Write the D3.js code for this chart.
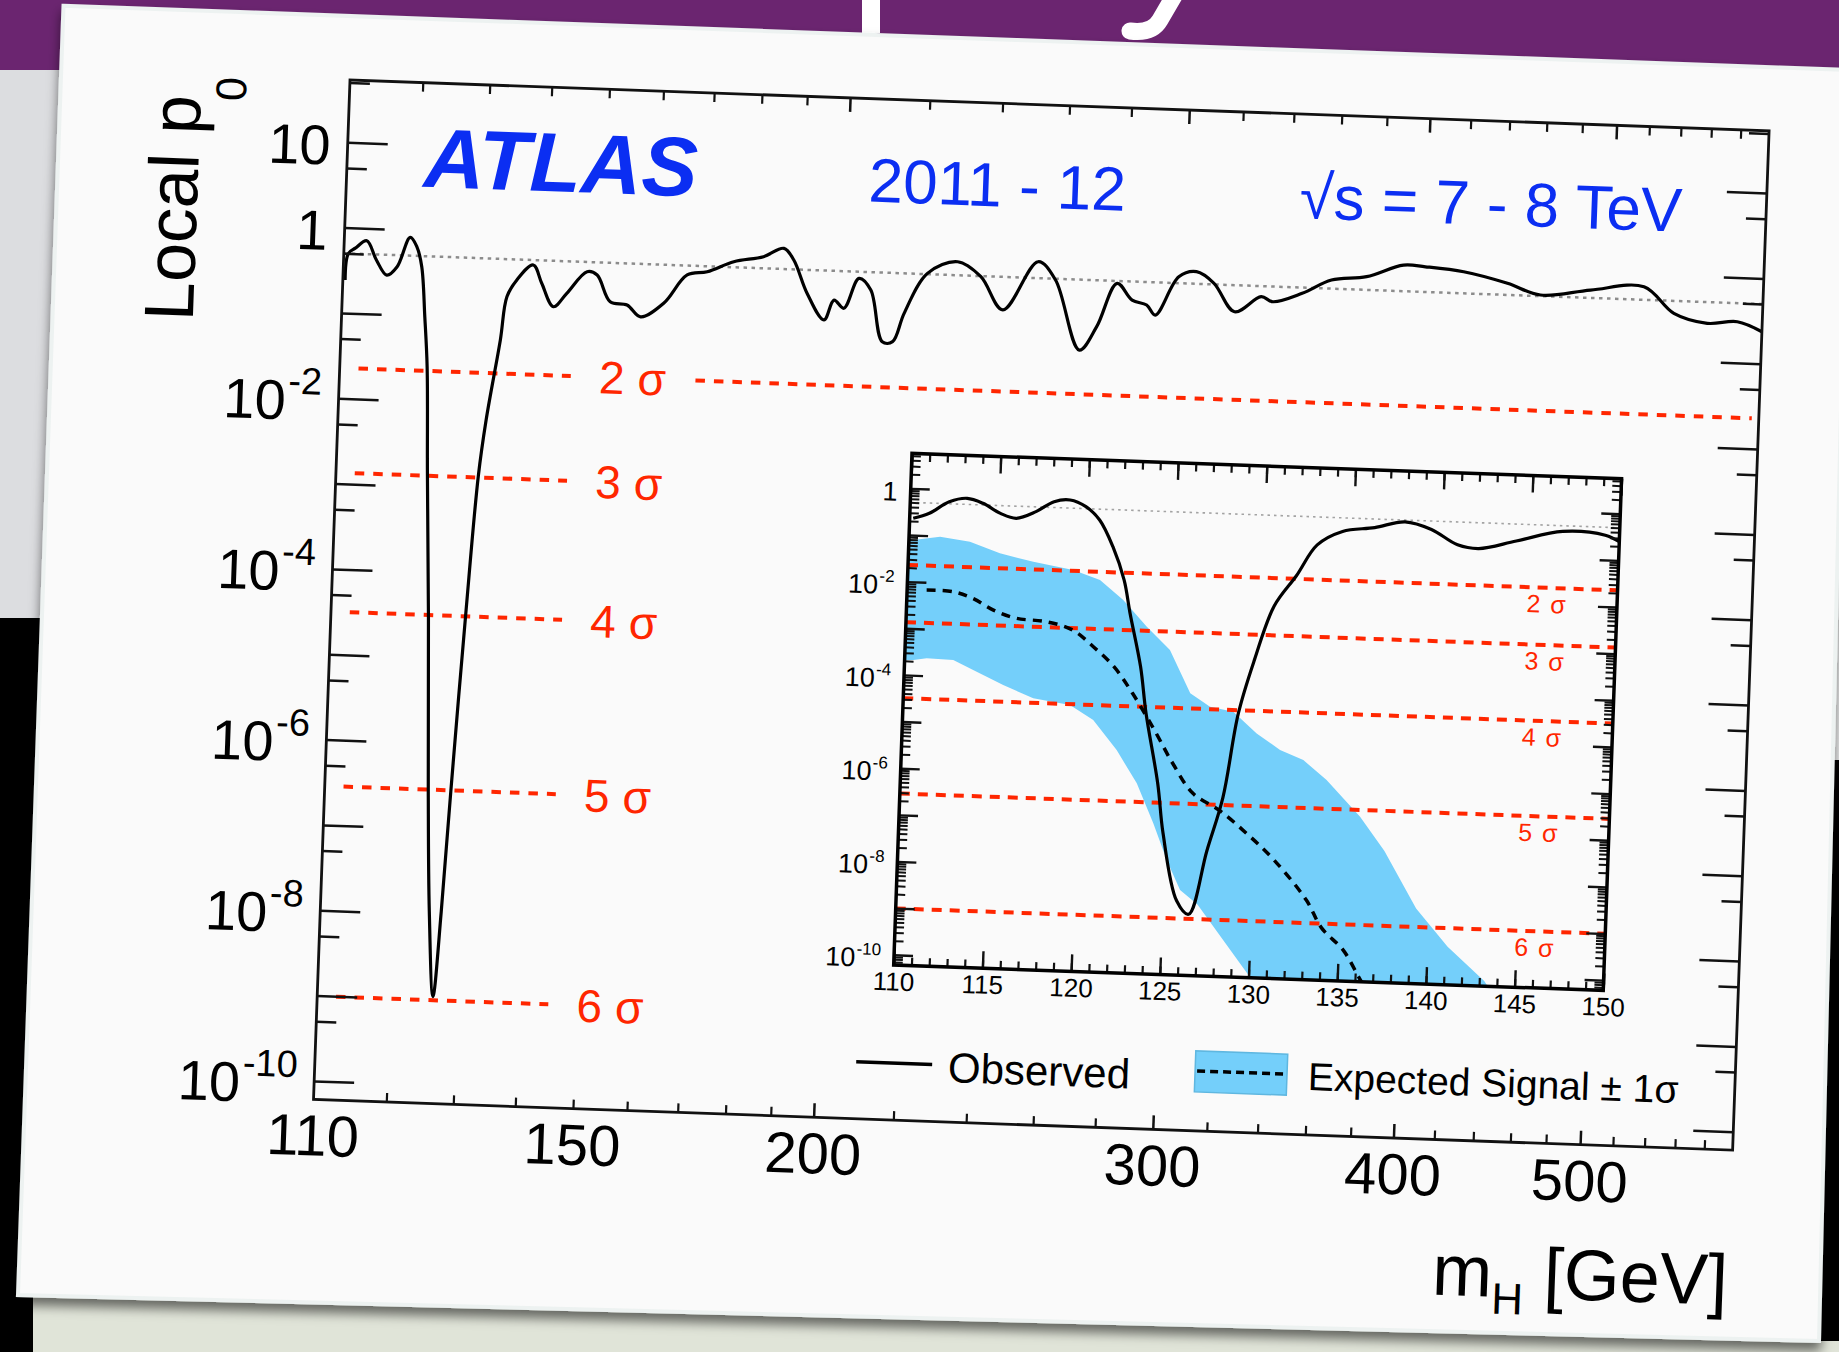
<!DOCTYPE html>
<html>
<head>
<script src="https://d3js.org/d3.v7.min.js"></script>
<style>
  body { margin: 0; background: #000; }
  svg text { white-space: pre; }
</style>
</head>
<body>
<div id="chart"></div>
<script>
// ---------------- data ----------------
// main plot: observed local p0 vs mH
const obsMass = [110.3,110.6,111.5,113.0,114.4,115.9,117.3,119.0,120.0,120.8,121.5,122.1,122.7,123.6,124.5,125.3,126.3,127.1,127.9,129.2,
  130.4,131.3,133.1,133.9,135.4,138.0,139.5,141.6,143.8,147.2,149.0,151.5,154.6,157.2,161.5,165.9,169.9,175.3,181.6,186.0,
  188.3,191.6,195.7,197.9,200.3,203.7,206.7,210.0,212.6,215.3,221.0,229.0,235.6,242.2,252.1,257.6,265.8,271.1,277.3,282.5,
  287.5,290.6,298.4,304.7,311.3,319.4,329.5,334.2,346.0,358.1,373.4,390.0,400.4,419.2,441.9,459.9,488.1,520.2,539.7,561.9,582.4,600];
const obsP0 = [0.243,0.50,0.58,0.716,0.43,0.289,0.366,0.817,0.639,0.375,0.0975,0.0253,1.42e-3,3.06e-5,2.77e-7,1.07e-8,1.09e-9,1.09e-8,2.82e-7,3.17e-5,
  1.41e-3,6.38e-3,0.0563,0.181,0.288,0.438,0.27,0.145,0.211,0.385,0.355,0.175,0.163,0.12,0.177,0.388,0.432,0.58,0.684,0.873,
  0.644,0.265,0.132,0.227,0.184,0.418,0.309,0.0776,0.0784,0.17,0.511,0.72,0.492,0.205,0.778,0.483,0.0749,0.143,0.469,0.303,
  0.269,0.207,0.594,0.693,0.515,0.244,0.376,0.332,0.428,0.63,0.714,1.01,0.986,0.895,0.684,0.515,0.617,0.711,0.357,0.282,0.303,0.237];

// inset (110-150 GeV)
const insetObsMass = [110.2,111.1,112.2,113.2,114.1,115.1,116.0,117.1,118.1,119.0,119.9,120.7,121.5,122.2,122.6,123.3,123.7,124.5,124.9,125.8,
  126.5,127.4,128.2,128.9,129.7,130.7,131.9,133.0,134.4,136.2,137.9,139.4,140.9,142.1,144.2,146.8,149.2,150];
const insetObsP0 = [0.229,0.302,0.553,0.675,0.542,0.341,0.275,0.395,0.667,0.745,0.551,0.293,0.0804,0.0158,3.1e-3,2.26e-4,2.31e-5,7.4e-7,6.4e-8,2.35e-9,
  1.24e-9,2.9e-8,4.2e-7,2.73e-5,3.94e-4,5.74e-3,0.0269,0.126,0.256,0.327,0.459,0.33,0.162,0.14,0.217,0.378,0.338,0.251];
const expMass = [111.1,112.6,113.7,114.9,116.2,117.9,119.4,120.6,121.8,122.9,124.2,125.3,126.5,128.0,129.6,131.2,133.1,134.0,135.3,136.2,136.5];
const expP0 = [6.82e-3,6.59e-3,4.92e-3,2.86e-3,1.99e-3,1.77e-3,1.23e-3,5.6e-4,2.17e-4,6.04e-5,1.03e-5,2.06e-6,4.84e-7,2.23e-7,7.4e-8,2.09e-8,3.07e-9,8.1e-10,2.71e-10,7.6e-11,5e-11];
const bandHiMass = [110,110.25,111.75,113.44,115.15,117.05,119.31,120.84,122.19,123.57,124.92,126.15,127.29,128.61,129.97,131.32,132.65,134.0,135.96,137.4,139.3,141.15,143.28,144.2];
const bandHiP0 = [0.0794,0.0783,0.097,0.08,0.0474,0.0333,0.0238,0.0152,5.92e-3,1.65e-3,5.46e-4,6.67e-5,3.58e-5,2.91e-5,1.04e-5,4.79e-6,3.04e-6,1.18e-6,2.06e-7,3.95e-8,2.46e-9,3.96e-10,7.8e-11,2.5e-11];
const bandLoMass = [110,110.49,111.24,112.74,114.08,115.6,117.32,119.4,120.74,122.12,123.32,124.33,125.16,125.97,126.98,130.0,130.5];
const bandLoP0 = [2.09e-4,2.11e-4,2.36e-4,2.28e-4,1.33e-4,7.24e-5,3.95e-5,3.04e-5,1.51e-5,3.57e-6,7.19e-7,1.03e-7,1.73e-8,4.03e-9,2.04e-9,6.8e-11,2.5e-11];

// significance levels
const sigmaN = [2, 3, 4, 5, 6];
const sigmaP0 = [2.275e-2, 1.350e-3, 3.167e-5, 2.867e-7, 9.866e-10];
const sigmaSegment = [112.5, 145];     // left dashed pieces in the main plot
const sigmaLabelMass = 150;
const sigma2Tail = [168.3, 595];       // the 2 sigma line continues to the right
const insetSigmaLabelMass = 144.9;

// ticks
const xLabels = [110, 150, 200, 300, 400, 500];
const xMajor = [200, 300, 400, 500];
const xMinor = [120,130,140,150,160,170,180,190,220,240,260,280,320,340,360,380,420,440,460,480,520,540,560,580];
const yLabelExp = [1, 0, -2, -4, -6, -8, -10];
const insetXLabels = [110, 115, 120, 125, 130, 135, 140, 145, 150];
const insetYLabelExp = [0, -2, -4, -6, -8, -10];

// ---------------- setup ----------------
const font = "'Liberation Sans', Arial, Helvetica, sans-serif";
const red = "#ff2600", blue = "#0b2ef2", band = "#74cffa";
const W = 1420, H = 1020;

const svg = d3.select("#chart").append("svg")
  .attr("width", 1839).attr("height", 1352)
  .style("display", "block");

const defs = svg.append("defs");
const shadow = defs.append("filter").attr("id", "shadow").attr("x", "-5%").attr("y", "-5%").attr("width", "110%").attr("height", "115%");
shadow.append("feDropShadow").attr("dx", 0).attr("dy", 8).attr("stdDeviation", 6)
  .attr("flood-color", "#000").attr("flood-opacity", 0.55);

// ---------------- background of the photo ----------------
svg.append("rect").attr("width", 1839).attr("height", 1352).attr("fill", "#000");
svg.append("rect").attr("x", 0).attr("y", 70).attr("width", 140).attr("height", 548).attr("fill", "#dcdde0");
svg.append("rect").attr("x", 1760).attr("y", 60).attr("width", 79).attr("height", 700).attr("fill", "#f2f3f3");
svg.append("rect").attr("x", 33).attr("y", 1280).attr("width", 1806).attr("height", 72).attr("fill", "#e0e4d8");
svg.append("rect").attr("x", 1821).attr("y", 760).attr("width", 18).attr("height", 581).attr("fill", "#000");
svg.append("rect").attr("x", 0).attr("y", 0).attr("width", 1839).attr("height", 70).attr("fill", "#6b2570");
// bits of the slide title peeking out above the card
svg.append("rect").attr("x", 862).attr("y", 0).attr("width", 18).attr("height", 33).attr("fill", "#fff");
svg.append("path").attr("d", "M1174,-4 L1160,20 Q1152,34 1130,31").attr("fill", "none")
  .attr("stroke", "#fff").attr("stroke-width", 17).attr("stroke-linecap", "round");

// the printed card
svg.append("polygon")
  .attr("points", "63.5,5.7 1849,70 1819,1341 18,1295")
  .attr("fill", "#fafafa").attr("stroke", "#edf2f1").attr("stroke-width", 4)
  .attr("filter", "url(#shadow)");

// ---------------- the chart, drawn flat then tilted like the photo ----------------
const plot = svg.append("g").attr("transform", "translate(350,80) rotate(2.05)")
  .attr("font-family", font);

const x = d3.scaleLog().domain([110, 600]).range([0, W]);
const y = d3.scaleLog().domain([Math.pow(10, -10.216), Math.pow(10, 1.7296)]).range([H, 0]);

// background-only expectation (p0 = 0.5)
plot.append("line").attr("x1", 0).attr("x2", W).attr("y1", y(0.5)).attr("y2", y(0.5))
  .attr("stroke", "#8c8c8c").attr("stroke-width", 2.5).attr("stroke-dasharray", "3.5 4.5");

// sigma lines
sigmaN.forEach((n, i) => {
  const yy = y(sigmaP0[i]);
  plot.append("line").attr("x1", x(sigmaSegment[0])).attr("x2", x(sigmaSegment[1]))
    .attr("y1", yy).attr("y2", yy)
    .attr("stroke", red).attr("stroke-width", 4).attr("stroke-dasharray", "9.5 9");
  plot.append("text").attr("x", x(sigmaLabelMass)).attr("y", yy).attr("dy", "0.35em")
    .attr("font-size", 46).attr("fill", red).text(n + " σ");
});
plot.append("line").attr("x1", x(sigma2Tail[0])).attr("x2", x(sigma2Tail[1]))
  .attr("y1", y(sigmaP0[0])).attr("y2", y(sigmaP0[0]))
  .attr("stroke", red).attr("stroke-width", 4).attr("stroke-dasharray", "9.5 9");

// observed
const mainLine = d3.line().x(d => x(d[0])).y(d => y(d[1])).curve(d3.curveCatmullRom.alpha(0.5));
plot.append("path").datum(d3.zip(obsMass, obsP0)).attr("d", mainLine)
  .attr("fill", "none").attr("stroke", "#000").attr("stroke-width", 3.2).attr("stroke-linejoin", "round");

// ---------------- inset ----------------
const ix = d3.scaleLinear().domain([110, 150]).range([575, 1285]);
const iy = d3.scaleLog().domain([Math.pow(10, -10.22), Math.pow(10, 0.75)]).range([865, 353]);

defs.append("clipPath").attr("id", "insetClip").append("rect")
  .attr("x", 575).attr("y", 353).attr("width", 710).attr("height", 512);

plot.append("rect").attr("x", 575).attr("y", 353).attr("width", 710).attr("height", 512).attr("fill", "#fafafa");
const inset = plot.append("g").attr("clip-path", "url(#insetClip)");

// +-1 sigma band on the expected signal
const bandPts = d3.zip(bandHiMass, bandHiP0).concat(d3.zip(bandLoMass, bandLoP0).reverse());
inset.append("path")
  .attr("d", d3.line().x(d => ix(d[0])).y(d => iy(d[1]))(bandPts) + "Z")
  .attr("fill", band);

inset.append("line").attr("x1", 575).attr("x2", 1285).attr("y1", iy(0.5)).attr("y2", iy(0.5))
  .attr("stroke", "#a3a3a3").attr("stroke-width", 1.6).attr("stroke-dasharray", "2.5 4");

sigmaN.forEach((n, i) => {
  const yy = iy(sigmaP0[i]);
  inset.append("line").attr("x1", 575).attr("x2", 1285).attr("y1", yy).attr("y2", yy)
    .attr("stroke", red).attr("stroke-width", 4).attr("stroke-dasharray", "10 8");
  inset.append("text").attr("x", ix(insetSigmaLabelMass)).attr("y", yy + 25)
    .attr("font-size", 25).attr("letter-spacing", 1.5).attr("fill", red).text(n + " σ");
});

const insetLine = d3.line().x(d => ix(d[0])).y(d => iy(d[1])).curve(d3.curveCatmullRom.alpha(0.5));
inset.append("path").datum(d3.zip(expMass, expP0)).attr("d", insetLine)
  .attr("fill", "none").attr("stroke", "#000").attr("stroke-width", 3.5).attr("stroke-dasharray", "9 7");
inset.append("path").datum(d3.zip(insetObsMass, insetObsP0)).attr("d", insetLine)
  .attr("fill", "none").attr("stroke", "#000").attr("stroke-width", 3.2).attr("stroke-linejoin", "round");

// ---------------- axes ----------------
function tickSet(axis, tx, ty, values, size, sw) {
  plot.append("g").attr("transform", `translate(${tx},${ty})`)
    .call(axis.tickValues(values).tickSize(-size).tickSizeOuter(0).tickFormat(""))
    .call(g => g.select(".domain").remove())
    .call(g => g.selectAll("line").attr("stroke", "#111").attr("stroke-width", sw));
}

// main x ticks (bottom + top)
tickSet(d3.axisBottom(x), 0, H, xMajor, 14, 2.5);
tickSet(d3.axisBottom(x), 0, H, xMinor, 9, 2.2);
tickSet(d3.axisTop(x), 0, 0, xMajor, 14, 2.5);
tickSet(d3.axisTop(x), 0, 0, xMinor, 9, 2.2);

// main y ticks (left + right)
const yMajor = d3.range(-10, 2).map(e => Math.pow(10, e));
const yMinor = d3.range(-11, 2).map(e => 5 * Math.pow(10, e)).filter(v => v > y.domain()[0] && v < y.domain()[1]);
tickSet(d3.axisLeft(y), 0, 0, yMajor, 40, 2.5);
tickSet(d3.axisLeft(y), 0, 0, yMinor, 20, 2.5);
tickSet(d3.axisRight(y), W, 0, yMajor, 40, 2.5);
tickSet(d3.axisRight(y), W, 0, yMinor, 20, 2.5);

plot.append("rect").attr("width", W).attr("height", H)
  .attr("fill", "none").attr("stroke", "#111").attr("stroke-width", 2.8);

// x tick labels
plot.append("g").attr("transform", `translate(0,${H})`)
  .call(d3.axisBottom(x).tickValues(xLabels).tickSize(0).tickPadding(15).tickFormat(d3.format("d")))
  .call(g => g.select(".domain").remove())
  .attr("font-family", font).attr("font-size", 58);

// y tick labels with exponents
yLabelExp.forEach(e => {
  const t = plot.append("text").attr("x", -17).attr("y", y(Math.pow(10, e)) + 23)
    .attr("text-anchor", "end").attr("font-size", 56);
  if (e === 1) t.text("10");
  else if (e === 0) t.text("1");
  else {
    t.append("tspan").text("10");
    t.append("tspan").attr("font-size", 38).attr("dx", 2).attr("dy", -26).text(String(e));
  }
});

// inset ticks
const insetXMinor = d3.range(110, 151);
const insetYMajor = d3.range(-10, 1).map(e => Math.pow(10, e));
const insetYMinor = [];
d3.range(-11, 1).forEach(e => d3.range(2, 10).forEach(k => {
  const v = k * Math.pow(10, e);
  if (v > iy.domain()[0] && v < iy.domain()[1]) insetYMinor.push(v);
}));
tickSet(d3.axisBottom(ix), 0, 865, insetXLabels, 17, 2.4);
tickSet(d3.axisBottom(ix), 0, 865, insetXMinor, 8, 2.2);
tickSet(d3.axisTop(ix), 0, 353, insetXLabels, 17, 2.4);
tickSet(d3.axisTop(ix), 0, 353, insetXMinor, 8, 2.2);
tickSet(d3.axisLeft(iy), 575, 0, insetYMajor, 19, 2.4);
tickSet(d3.axisLeft(iy), 575, 0, insetYMinor, 9, 2);
tickSet(d3.axisRight(iy), 1285, 0, insetYMajor, 19, 2.4);
tickSet(d3.axisRight(iy), 1285, 0, insetYMinor, 9, 2);

plot.append("rect").attr("x", 575).attr("y", 353).attr("width", 710).attr("height", 512)
  .attr("fill", "none").attr("stroke", "#000").attr("stroke-width", 3.5);

plot.append("g").attr("transform", "translate(0,865)")
  .call(d3.axisBottom(ix).tickValues(insetXLabels).tickSize(0).tickPadding(7).tickFormat(d3.format("d")))
  .call(g => g.select(".domain").remove())
  .attr("font-family", font).attr("font-size", 26);

insetYLabelExp.forEach(e => {
  const t = plot.append("text").attr("x", 562).attr("y", iy(Math.pow(10, e)) + 13)
    .attr("text-anchor", "end").attr("font-size", 27);
  if (e === 0) t.text("1");
  else {
    t.append("tspan").text("10");
    t.append("tspan").attr("font-size", 17).attr("dx", 1).attr("dy", -12).text(String(e));
  }
});

// ---------------- titles and labels ----------------
plot.append("text").attr("transform", "translate(-148.5,247) rotate(-90)").attr("font-size", 70)
  .call(t => {
    t.append("tspan").text("Local p");
    t.append("tspan").attr("font-size", 43).attr("dx", -4).attr("dy", 45).text("0");
  });

plot.append("text").attr("x", W).attr("y", 1175).attr("text-anchor", "end").attr("font-size", 72)
  .call(t => {
    t.append("tspan").text("m");
    t.append("tspan").attr("font-size", 44).attr("dy", 17).text("H");
    t.append("tspan").attr("dy", -17).text(" [GeV]");
  });

plot.append("text").attr("x", 77).attr("y", 104).attr("font-size", 84)
  .attr("font-weight", "bold").attr("font-style", "italic").attr("fill", blue).text("ATLAS");
plot.append("text").attr("x", 522).attr("y", 103).attr("font-size", 62).attr("fill", blue).text("2011 - 12");
plot.append("text").attr("x", 1336).attr("y", 104).attr("text-anchor", "end").attr("font-size", 62)
  .attr("fill", blue).text("√s = 7 - 8 TeV");

// ---------------- legend ----------------
plot.append("line").attr("x1", 541).attr("x2", 617).attr("y1", 963).attr("y2", 963)
  .attr("stroke", "#000").attr("stroke-width", 3.5);
plot.append("text").attr("x", 633).attr("y", 980).attr("font-size", 42).text("Observed");

plot.append("rect").attr("x", 880).attr("y", 940).attr("width", 92).attr("height", 41)
  .attr("fill", band).attr("stroke", "#5fb7e0").attr("stroke-width", 1.5);
plot.append("line").attr("x1", 882).attr("x2", 970).attr("y1", 960).attr("y2", 960)
  .attr("stroke", "#000").attr("stroke-width", 3.5).attr("stroke-dasharray", "8 5");
plot.append("text").attr("x", 993).attr("y", 975).attr("font-size", 39).text("Expected Signal ± 1σ");
</script>
</body>
</html>
